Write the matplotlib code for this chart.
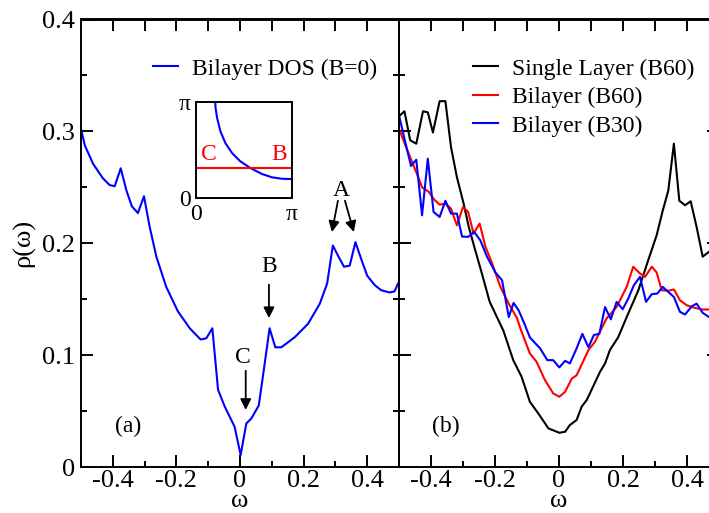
import numpy as np
import matplotlib
matplotlib.use("Agg")
import matplotlib.pyplot as plt
from matplotlib.ticker import MultipleLocator, NullFormatter

plt.rcParams['font.family'] = ['Liberation Serif', 'DejaVu Serif']
plt.rcParams['font.size'] = 17

# (a) bilayer DOS, B=0
w_a = [-0.499, -0.488, -0.462, -0.431, -0.410, -0.394, -0.375, -0.357, -0.340,
       -0.321, -0.302, -0.284, -0.263, -0.232, -0.195, -0.158, -0.124, -0.106,
       -0.087, -0.069, -0.048, -0.017, 0.002, 0.020, 0.036, 0.059, 0.075, 0.093,
       0.111, 0.130, 0.172, 0.214, 0.251, 0.274, 0.292, 0.308, 0.327, 0.345,
       0.363, 0.381, 0.400, 0.424, 0.444, 0.471, 0.486, 0.497]
rho_a = [0.301, 0.2875, 0.271, 0.258, 0.252, 0.251, 0.267, 0.247, 0.233,
         0.227, 0.242, 0.2146, 0.188, 0.161, 0.139, 0.124, 0.114, 0.115,
         0.124, 0.069, 0.054, 0.036, 0.0107, 0.039, 0.0435, 0.055, 0.087, 0.124,
         0.107, 0.107, 0.116, 0.128, 0.146, 0.164, 0.198, 0.189, 0.179, 0.180,
         0.201, 0.186, 0.171, 0.1625, 0.158, 0.156, 0.157, 0.164]

# (b) single layer B60
w_single = [-0.498, -0.483, -0.465, -0.446, -0.425, -0.410, -0.394, -0.373, -0.355,
            -0.3375, -0.319, -0.298, -0.282, -0.262, -0.241, -0.217, -0.194, -0.174,
            -0.143, -0.117, -0.091, -0.065, -0.033, 0.001, 0.019, 0.034, 0.055,
            0.071, 0.087, 0.128, 0.144, 0.159, 0.185, 0.2115, 0.248, 0.279, 0.305,
            0.324, 0.3415, 0.359, 0.376, 0.394, 0.4115, 0.430, 0.449, 0.467,
            0.485, 0.500]
rho_single = [0.314, 0.318, 0.292, 0.289, 0.318, 0.317, 0.299, 0.327, 0.327,
              0.286, 0.259, 0.2354, 0.2146, 0.194, 0.173, 0.148, 0.134, 0.122,
              0.0955, 0.0807, 0.0583, 0.048, 0.0345, 0.0306, 0.0315, 0.0375, 0.042,
              0.054, 0.060, 0.085, 0.0926, 0.1045, 0.116, 0.134, 0.158, 0.185, 0.207,
              0.229, 0.247, 0.289, 0.238, 0.234, 0.2375, 0.2146, 0.188, 0.192,
              0.196, 0.200]

# (b) bilayer B60
w_b60 = [-0.498, -0.480, -0.459, -0.444, -0.428, -0.407, -0.390, -0.373, -0.355,
         -0.3375, -0.319, -0.300, -0.284, -0.267, -0.248, -0.230, -0.209, -0.183,
         -0.157, -0.131, -0.122, -0.1065, -0.091, -0.070, -0.044, -0.018, 0.001,
         0.019, 0.040, 0.055, 0.092, 0.1125, 0.128, 0.149, 0.180, 0.2115, 0.232,
         0.253, 0.269, 0.290, 0.305, 0.321, 0.3415, 0.359, 0.378, 0.399, 0.4197,
         0.446, 0.469, 0.500]
rho_b60 = [0.301, 0.2875, 0.2726, 0.262, 0.250, 0.246, 0.239, 0.2345, 0.2354,
           0.231, 0.216, 0.2324, 0.228, 0.2087, 0.2176, 0.197, 0.182, 0.161,
           0.146, 0.133, 0.125, 0.113, 0.1015, 0.094, 0.0777, 0.0658, 0.0628,
           0.0672, 0.079, 0.082, 0.1045, 0.112, 0.121, 0.133, 0.143, 0.161, 0.179,
           0.173, 0.170, 0.179, 0.174, 0.158, 0.1575, 0.1587, 0.149, 0.1446, 0.1426,
           0.1408, 0.1408, 0.140]

# (b) bilayer B30
w_b30 = [-0.498, -0.483, -0.4625, -0.446, -0.428, -0.410, -0.392, -0.373, -0.355,
         -0.3375, -0.319, -0.303, -0.284, -0.265, -0.246, -0.225, -0.199, -0.178,
         -0.157, -0.142, -0.126, -0.108, -0.091, -0.059, -0.0365, -0.018, 0.001,
         0.019, 0.034, 0.055, 0.073, 0.092, 0.109, 0.126, 0.144, 0.162, 0.180,
         0.199, 0.2165, 0.234, 0.253, 0.272, 0.290, 0.307, 0.324, 0.3415, 0.359,
         0.378, 0.394, 0.415, 0.430, 0.449, 0.469, 0.500]
rho_b30 = [0.312, 0.2935, 0.269, 0.2747, 0.225, 0.2756, 0.228, 0.2235, 0.238,
           0.2265, 0.2265, 0.206, 0.2057, 0.210, 0.2027, 0.188, 0.174, 0.167,
           0.134, 0.1467, 0.140, 0.128, 0.1158, 0.106, 0.0955, 0.0955, 0.089,
           0.0949, 0.0926, 0.106, 0.119, 0.107, 0.118, 0.119, 0.143, 0.132, 0.1476,
           0.141, 0.1506, 0.1625, 0.170, 0.1476, 0.1545, 0.155, 0.161, 0.1565, 0.152,
           0.1387, 0.1363, 0.1437, 0.146, 0.1378, 0.134, 0.132]

# inset: Fermi surface and the cut through C and B
kx_fs = [0.63, 0.64, 0.69, 0.80, 0.96, 1.18, 1.45, 1.78, 2.16, 2.49, 2.81, 3.14]
ky_fs = [3.14, 2.95, 2.62, 2.18, 1.80, 1.47, 1.20, 0.98, 0.785, 0.676, 0.63, 0.62]
k_cut = 0.99

W, H = 709, 513
fig = plt.figure(figsize=(W / 100, H / 100), dpi=100)
bot = (H - 467) / H
hgt = 447.5 / H
ax1 = fig.add_axes([81 / W, bot, 318 / W, hgt])
ax2 = fig.add_axes([399 / W, bot, 320 / W, hgt])

LW = 1.5
for ax in (ax1, ax2):
    ax.set_xlim(-0.5, 0.5)
    ax.set_ylim(0, 0.4)
    ax.xaxis.set_major_locator(MultipleLocator(0.2))
    ax.xaxis.set_minor_locator(MultipleLocator(0.1))
    ax.yaxis.set_major_locator(MultipleLocator(0.1))
    ax.yaxis.set_minor_locator(MultipleLocator(0.05))
    ax.tick_params(which='both', direction='in', width=1.4, top=False, labelsize=19)
    ax.tick_params(which='major', length=8.6, pad=2)
    ax.tick_params(which='minor', length=4.3)
    ax.tick_params(axis='y', pad=4.5)
    for s in ax.spines.values():
        s.set_linewidth(1.4)
    ax.set_xticks([-0.4, -0.2, 0, 0.2, 0.4], ['-0.4', '-0.2', '0', '0.2', '0.4'])
    ax.set_xlabel('ω', fontsize=19, labelpad=-1.2)
    sec = ax.secondary_xaxis('top')
    sec.set_xticks([-0.4, -0.3, -0.2, -0.1, 0, 0.1, 0.2, 0.3, 0.4])
    sec.xaxis.set_major_formatter(NullFormatter())
    sec.tick_params(direction='in', length=8.6, width=1.4)
    sec.spines['top'].set_linewidth(1.4)

ax1.set_yticks([0, 0.1, 0.2, 0.3, 0.4], ['0', '0.1', '0.2', '0.3', '0.4'])
ax1.tick_params(axis='y', right=False)
ax1.set_ylabel('ρ(ω)', fontsize=19, labelpad=5)
secy = ax1.secondary_yaxis('right')
secy.set_yticks([0.05, 0.1, 0.15, 0.2, 0.25, 0.3, 0.35])
secy.yaxis.set_major_formatter(NullFormatter())
secy.tick_params(direction='in', length=4.3, width=1.4)

ax2.tick_params(axis='y', which='both', right=True, labelleft=False)

ax1.plot(w_a, rho_a, color='#0000ff', lw=LW, label='Bilayer DOS (B=0)')
ax1.legend(loc='upper left', bbox_to_anchor=(0.226, 0.914), frameon=False,
           borderpad=0, borderaxespad=0, handlelength=1.05, handletextpad=0.6)

ax2.plot(w_single, rho_single, color='black', lw=LW, label='Single Layer (B60)')
ax2.plot(w_b60, rho_b60, color='#ff0000', lw=LW, label='Bilayer (B60)')
ax2.plot(w_b30, rho_b30, color='#0000ff', lw=LW, label='Bilayer (B30)')
ax2.legend(loc='upper left', bbox_to_anchor=(0.231, 0.914), frameon=False,
           borderpad=0, borderaxespad=0, handlelength=1.05, handletextpad=0.6,
           labelspacing=0.3)

ax1.text(-0.352, 0.036, '(a)', ha='center', va='center')
ax2.text(-0.353, 0.036, '(b)', ha='center', va='center')

arr = dict(arrowstyle='-|>', color='black', lw=1.3, mutation_scale=16, shrinkA=0, shrinkB=0)
ax1.text(0.009, 0.098, 'C', ha='center', va='center')
ax1.annotate('', xy=(0.018, 0.051), xytext=(0.018, 0.086), arrowprops=arr)
ax1.text(0.093, 0.179, 'B', ha='center', va='center')
ax1.annotate('', xy=(0.091, 0.133), xytext=(0.091, 0.163), arrowprops=arr)
ax1.text(0.317, 0.247, 'A', ha='center', va='center')
ax1.annotate('', xy=(0.289, 0.210), xytext=(0.308, 0.238), arrowprops=arr)
ax1.annotate('', xy=(0.358, 0.210), xytext=(0.330, 0.238), arrowprops=arr)

ins = fig.add_axes([196 / W, (H - 198) / H, 96 / W, 96 / H])
ins.plot(kx_fs, ky_fs, color='#0000ff', lw=LW)
ins.axhline(k_cut, color='#ff0000', lw=LW)
ins.set_xlim(0, np.pi)
ins.set_ylim(0, np.pi)
ins.set_xticks([0, np.pi], ['0', 'π'])
ins.set_yticks([0, np.pi], ['0', 'π'])
ins.tick_params(length=0, pad=4)
for s in ins.spines.values():
    s.set_linewidth(1.4)
ins.text(0.41, 1.42, 'C', color='#ff0000', ha='center', va='center')
ins.text(2.73, 1.42, 'B', color='#ff0000', ha='center', va='center')

fig.savefig('out.png', dpi=100)
